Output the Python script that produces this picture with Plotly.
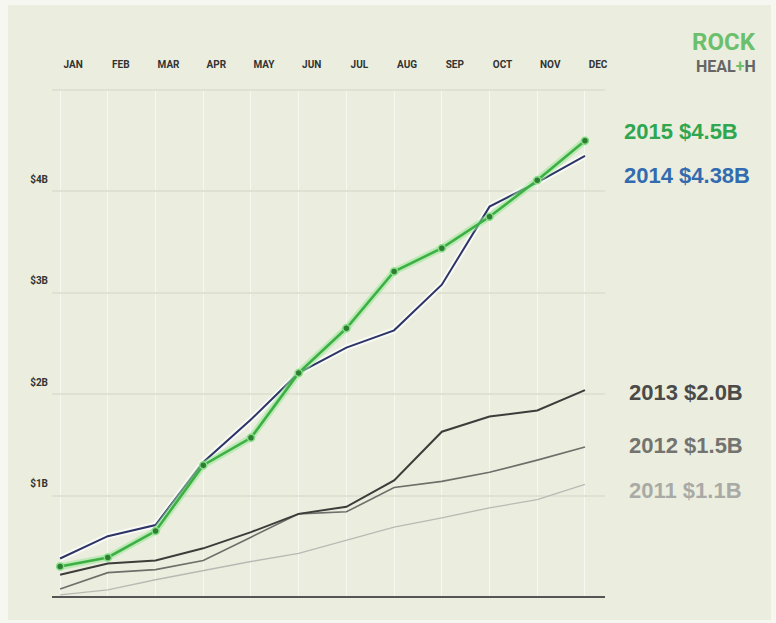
import plotly.graph_objects as go

months = ["JAN", "FEB", "MAR", "APR", "MAY", "JUN", "JUL", "AUG", "SEP", "OCT", "NOV", "DEC"]
y2015 = [0.30, 0.39, 0.65, 1.30, 1.57, 2.21, 2.65, 3.21, 3.44, 3.75, 4.11, 4.50]
y2014 = [0.38, 0.60, 0.71, 1.33, 1.75, 2.21, 2.46, 2.63, 3.08, 3.85, 4.09, 4.35]
y2013 = [0.22, 0.33, 0.36, 0.48, 0.64, 0.82, 0.89, 1.15, 1.63, 1.78, 1.84, 2.04]
y2012 = [0.08, 0.24, 0.27, 0.36, 0.59, 0.82, 0.84, 1.08, 1.14, 1.23, 1.35, 1.48]
y2011 = [0.02, 0.07, 0.17, 0.26, 0.35, 0.43, 0.56, 0.69, 0.78, 0.88, 0.96, 1.11]
y_tick_vals = [1, 2, 3, 4, 5]
y_tick_text = ["$1B", "$2B", "$3B", "$4B", ""]
end_labels = ["2015 $4.5B", "2014 $4.38B", "2013 $2.0B", "2012 $1.5B", "2011 $1.1B"]

x = list(range(len(months)))
W, H = 776, 623
L, R, T, B = 52, 171, 89, 26
pw, ph = W - L - R, H - T - B

def px_to_paper_x(p):
    return (p - L) / pw

def px_to_paper_y(p):
    return (H - B - p) / ph

fig = go.Figure()

def add_line(yv, color, width, halo=None):
    if halo:
        fig.add_trace(go.Scatter(x=x, y=yv, mode="lines",
                                 line=dict(color=halo, width=width + 4),
                                 hoverinfo="skip", showlegend=False))
    fig.add_trace(go.Scatter(x=x, y=yv, mode="lines",
                             line=dict(color=color, width=width),
                             showlegend=False))

add_line(y2011, "#b9b9b4", 1.3)
add_line(y2012, "#6e6e6a", 1.6)
add_line(y2013, "#3c3c3a", 2.0)
add_line(y2014, "#2c3566", 2.0, halo="rgba(255,255,255,0.7)")
fig.add_trace(go.Scatter(x=x, y=y2015, mode="lines",
                         line=dict(color="rgba(150,230,150,0.55)", width=7),
                         hoverinfo="skip", showlegend=False))
fig.add_trace(go.Scatter(x=x, y=y2015, mode="lines+markers",
                         line=dict(color="#3cb043", width=2.6),
                         marker=dict(size=7, color="#2d7d33",
                                     line=dict(color="#86dd86", width=1.5)),
                         showlegend=False))

label_colors = ["#2fa64f", "#336bb0", "#4a4a48", "#737370", "#a9aaa6"]
label_px_y = [132, 175, 392, 445, 490]
label_px_x = [622, 622, 627, 627, 627]
for txt, col, px, py in zip(end_labels, label_colors, label_px_x, label_px_y):
    fig.add_annotation(x=px_to_paper_x(px), y=px_to_paper_y(py),
                       xref="paper", yref="paper", text=txt, showarrow=False,
                       xanchor="left", yanchor="middle",
                       font=dict(family="Liberation Sans, Arial, sans-serif",
                                 size=22, color=col, weight="bold"))

fig.add_annotation(x=px_to_paper_x(758), y=px_to_paper_y(42), xref="paper", yref="paper",
                   text="ROCK", showarrow=False, xanchor="right", yanchor="middle",
                   font=dict(family="Roboto, sans-serif",
                             size=24, color="#6cbf6c", weight="bold"))
fig.add_annotation(x=px_to_paper_x(758), y=px_to_paper_y(66), xref="paper", yref="paper",
                   text="HEAL<span style='color:#6cbf6c'>+</span>H", showarrow=False,
                   xanchor="right", yanchor="middle",
                   font=dict(family="Roboto, sans-serif",
                             size=16, color="#666666", weight="bold"))

fig.add_shape(type="rect", xref="paper", yref="paper",
              x0=px_to_paper_x(8), x1=px_to_paper_x(771),
              y0=px_to_paper_y(620), y1=px_to_paper_y(5),
              fillcolor="#ebeede", line=dict(width=0), layer="below")

tick_font = dict(family="Roboto, sans-serif",
                 size=10, color="#333333", weight="bold")

fig.update_layout(
    width=W, height=H,
    margin=dict(l=L, r=R, t=T, b=B),
    paper_bgcolor="#f6f7f0",
    plot_bgcolor="rgba(0,0,0,0)",
    xaxis=dict(side="top", range=[-0.17, 11.42], tickvals=x, ticktext=months,
               showgrid=True, gridcolor="rgba(255,255,255,0.6)", gridwidth=1,
               zeroline=False, showline=False, ticks="", automargin=False,
               ticklabelstandoff=18, ticklabelshift=13, tickfont=tick_font,
               fixedrange=True),
    yaxis=dict(range=[0, 5.01], tickvals=y_tick_vals, ticktext=y_tick_text,
               showgrid=True, gridcolor="#dfe1d3", gridwidth=1.5,
               zeroline=True, zerolinecolor="#555555", zerolinewidth=1.5,
               showline=False, ticks="", ticklabelstandoff=3, ticklabelshift=-12,
               automargin=False, tickfont=tick_font, fixedrange=True),
)

fig.write_html("out.html", config={"displayModeBar": False},
               post_script="document.body.style.margin='0';")
